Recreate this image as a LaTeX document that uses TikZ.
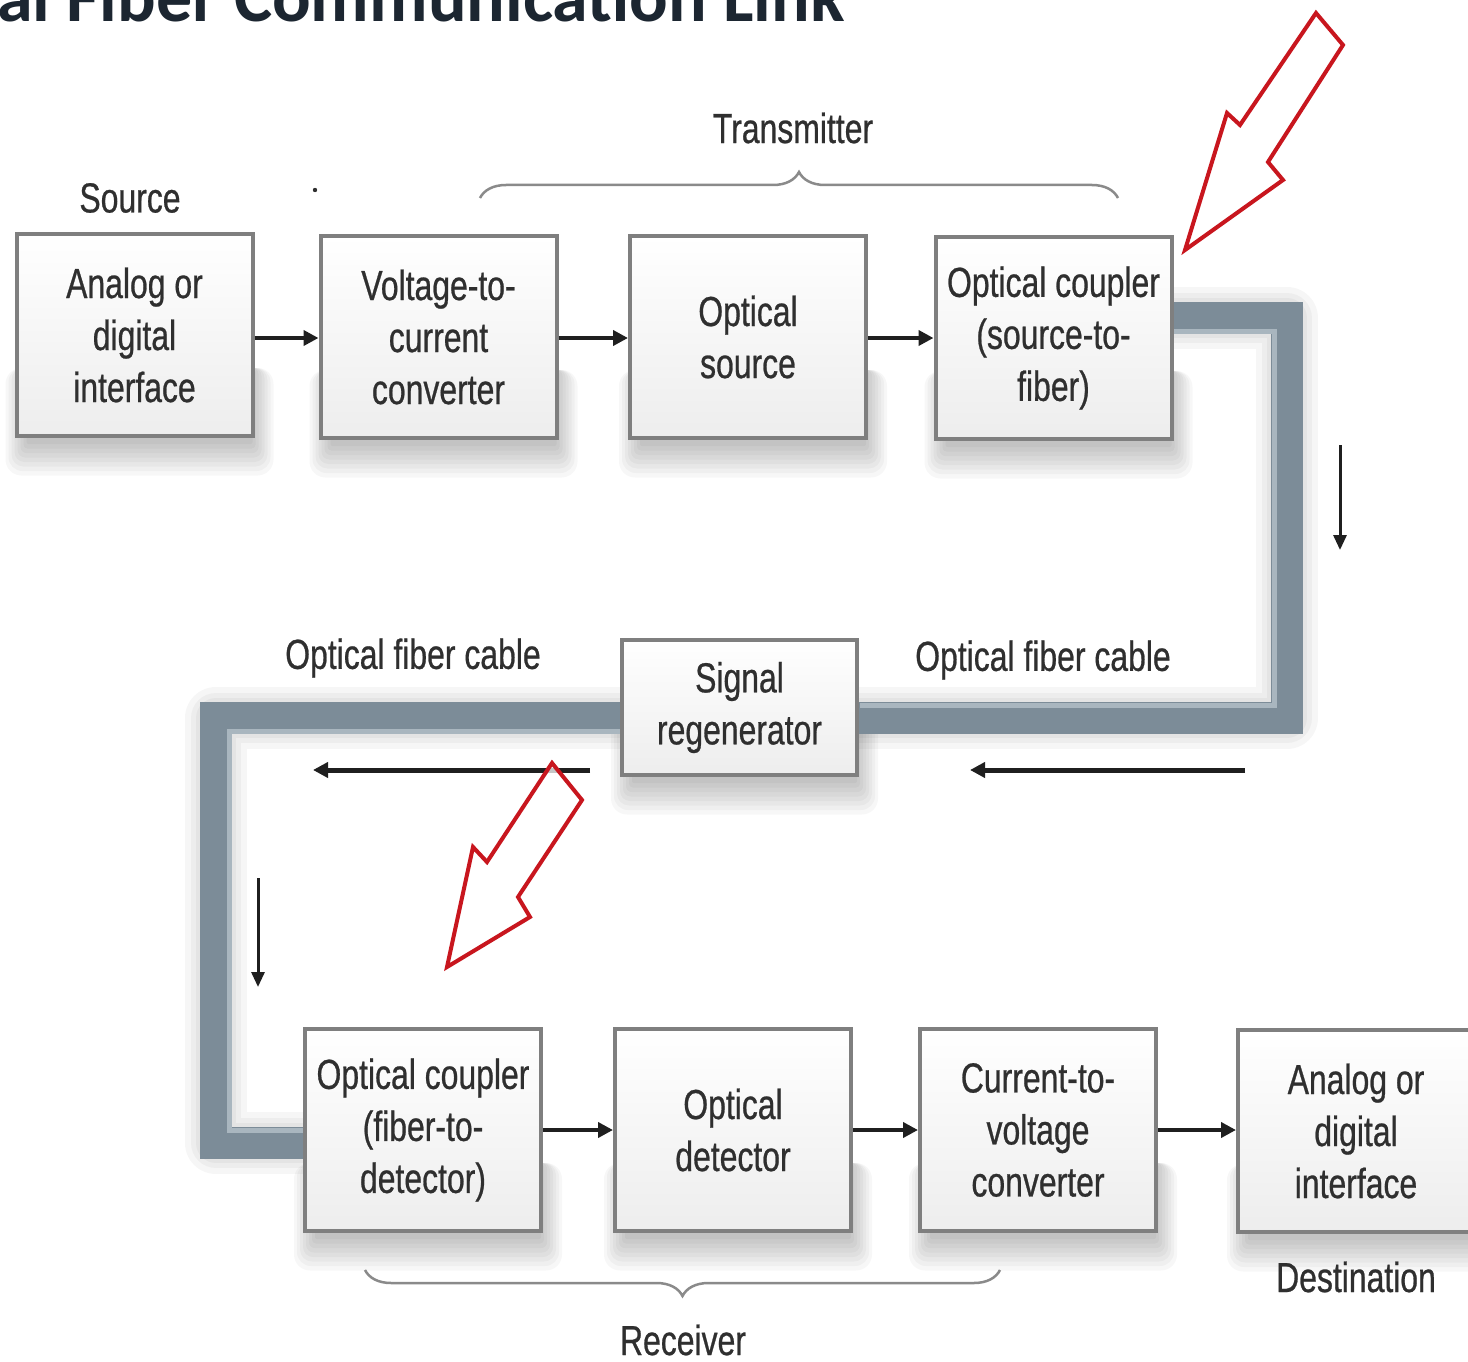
\documentclass[tikz,border=0pt]{standalone}
\usepackage{fontspec}
\setmainfont{Liberation Sans}[FakeStretch=0.76, FakeBold=0.6]
\newfontfamily\titlefont{Carlito}
\usetikzlibrary{arrows.meta,calc,decorations.pathreplacing}
\pgfdeclarelayer{paperlayer}
\pgfdeclarelayer{shadowlayer}
\pgfsetlayers{paperlayer,shadowlayer,main}
\definecolor{txt}{HTML}{2F2F2F}
\definecolor{boxline}{HTML}{7F7F7F}
\definecolor{fibercol}{HTML}{7C8C98}
\definecolor{fiberlight}{HTML}{A9B6BF}
\definecolor{redarrow}{HTML}{C8161E}
\definecolor{titlecol}{HTML}{1C2631}
\definecolor{bracecol}{HTML}{8A8A8A}
\begin{document}
\begin{tikzpicture}[x=1pt,y=-1pt,
  lbl/.style={font=\fontsize{42}{52}\selectfont, text=txt, inner sep=0pt, align=center},
  blk/.style={lbl, draw=boxline, line width=4pt, minimum width=236pt, minimum height=202pt,
    top color=white, bottom color=gray!14},
  flow/.style={line width=4pt, draw=black!88, -{Triangle[length=15pt,width=15pt]}},
  thinflow/.style={line width=3pt, draw=black!88, -{Triangle[length=15pt,width=13pt]}},
  fiberband/.style={line width=32pt, draw=fibercol, line join=miter},
  fibershade/.style={line width=#1, draw=black, draw opacity=0.035, line join=round},
  shadowpiece/.style={fill=black, fill opacity=0.032},
  bracestyle/.style={draw=bracecol, line width=2.5pt, decorate,
    decoration={brace, amplitude=26pt, aspect=0.5}},
  redarr/.style={draw=redarrow, line width=4pt, fill=white, fill opacity=0.75, line join=miter}
]
\useasboundingbox (0,0) rectangle (1468,1362);
\clip (0,0) rectangle (1468,1362);
\begin{pgfonlayer}{paperlayer}
\fill[white] (0,0) rectangle (1468,1362);
\end{pgfonlayer}

% title (cut off at the top of the picture)
\node[anchor=base east, inner sep=0pt, text=titlecol, font=\titlefont\bfseries\fontsize{72}{78}\selectfont]
  (title) at (845,22) {Optical Fiber Communication Link};

% fiber path coordinates
\coordinate (f0) at (1170,318);
\coordinate (f1) at (1287,318);
\coordinate (f2) at (1287,718);
\coordinate (f3) at (216,718);
\coordinate (f4) at (216,1143);
\coordinate (f5) at (308,1143);

% fiber shadow and band
\foreach \w in {62pt,50pt,40pt}{
  \draw[fibershade=\w, shift={(9,15)}] (f0) -- (f1) -- (f2) -- (f3) -- (f4) -- (f5);
}
\draw[fiberband] (f0) -- (f1) -- (f2) -- (f3) -- (f4) -- (f5);
\draw[fiberlight, line width=5pt, line join=miter]
  (1172,331) -- (1274,331) -- (1274,705) -- (860,705);
\draw[fiberlight, line width=5pt, line join=miter]
  (620,731) -- (229,731) -- (229,1130) -- (305,1130);

% top row
\node[blk] (src) at (134.5,335) {Analog or\\digital\\interface};
\node[blk] (vtoc) at (438.5,337) {Voltage-to-\\current\\converter};
\node[blk] (osrc) at (748,337) {Optical\\source};
\node[blk] (cpl1) at (1053.5,338) {Optical coupler\\(source-to-\\fiber)};

% signal regenerator
\node[blk, minimum width=235pt, minimum height=135pt] (regen) at (739.5,707.5) {Signal\\regenerator};

% bottom row
\node[blk] (cpl2) at (423,1130) {Optical coupler\\(fiber-to-\\detector)};
\node[blk] (odet) at (733,1130) {Optical\\detector};
\node[blk] (ctov) at (1038,1130) {Current-to-\\voltage\\converter};
\node[blk] (dst) at (1356,1131) {Analog or\\digital\\interface};

% soft shadows under the blocks
\begin{pgfonlayer}{shadowlayer}
\foreach \n in {src,vtoc,osrc,cpl1,regen,cpl2,odet,ctov,dst}{
  \foreach \k in {0,...,7}{
    \fill[shadowpiece, rounded corners=2*\k+2]
      ($(\n.south west)+(12-3*\k,-70)$) rectangle ($(\n.south east)+(-2+3*\k,6+4.5*\k)$);
  }
}
\end{pgfonlayer}

% labels
\node[lbl] (lsource) at (130,198) {Source};
\node[lbl] (ltx) at (793,128) {Transmitter};
\node[lbl] (lfib1) at (413,658) {Optical fiber cable};
\node[lbl] (lfib2) at (1043,660) {Optical fiber cable};
\node[lbl] (ldest) at (1356,1277) {Destination};
\node[lbl] (lrx) at (683,1340) {Receiver};

% stray dot
\fill[txt] (315,190) circle (2.2pt);

% braces
\coordinate (bt1) at (480,198);
\coordinate (bt2) at (1118,198);
\coordinate (bb1) at (1000,1270);
\coordinate (bb2) at (365,1270);
\draw[bracestyle] (bt1) -- (bt2);
\draw[bracestyle] (bb1) -- (bb2);

% signal flow arrows between blocks
\draw[flow] (src.east |- 0,338) -- (vtoc.west |- 0,338);
\draw[flow] (vtoc.east |- 0,338) -- (osrc.west |- 0,338);
\draw[flow] (osrc.east |- 0,338) -- (cpl1.west |- 0,338);
\draw[flow] (cpl2.east) -- (odet.west);
\draw[flow] (odet.east) -- (ctov.west);
\draw[flow] (ctov.east |- 0,1130) -- (dst.west |- 0,1130);

% direction arrows along the fiber
\coordinate (d1a) at (1340,445);
\coordinate (d1b) at (1340,550);
\coordinate (h1a) at (1245,770);
\coordinate (h1b) at (970,770);
\coordinate (h2a) at (590,770);
\coordinate (h2b) at (313,770);
\coordinate (d2a) at (258,878);
\coordinate (d2b) at (258,987);
\draw[thinflow] (d1a) -- (d1b);
\draw[flow, line width=5pt] (h1a) -- (h1b);
\draw[flow, line width=5pt] (h2a) -- (h2b);
\draw[thinflow] (d2a) -- (d2b);

% red pointer arrows
\draw[redarr] (1185,250) -- (1227,113) -- (1240,125) -- (1316,13) -- (1343,45) -- (1268,162) -- (1283,180) -- cycle;
\draw[redarr] (447,967) -- (473,847) -- (487,862) -- (552,763) -- (582,800) -- (518,897) -- (530,917) -- cycle;
\end{tikzpicture}
\end{document}
